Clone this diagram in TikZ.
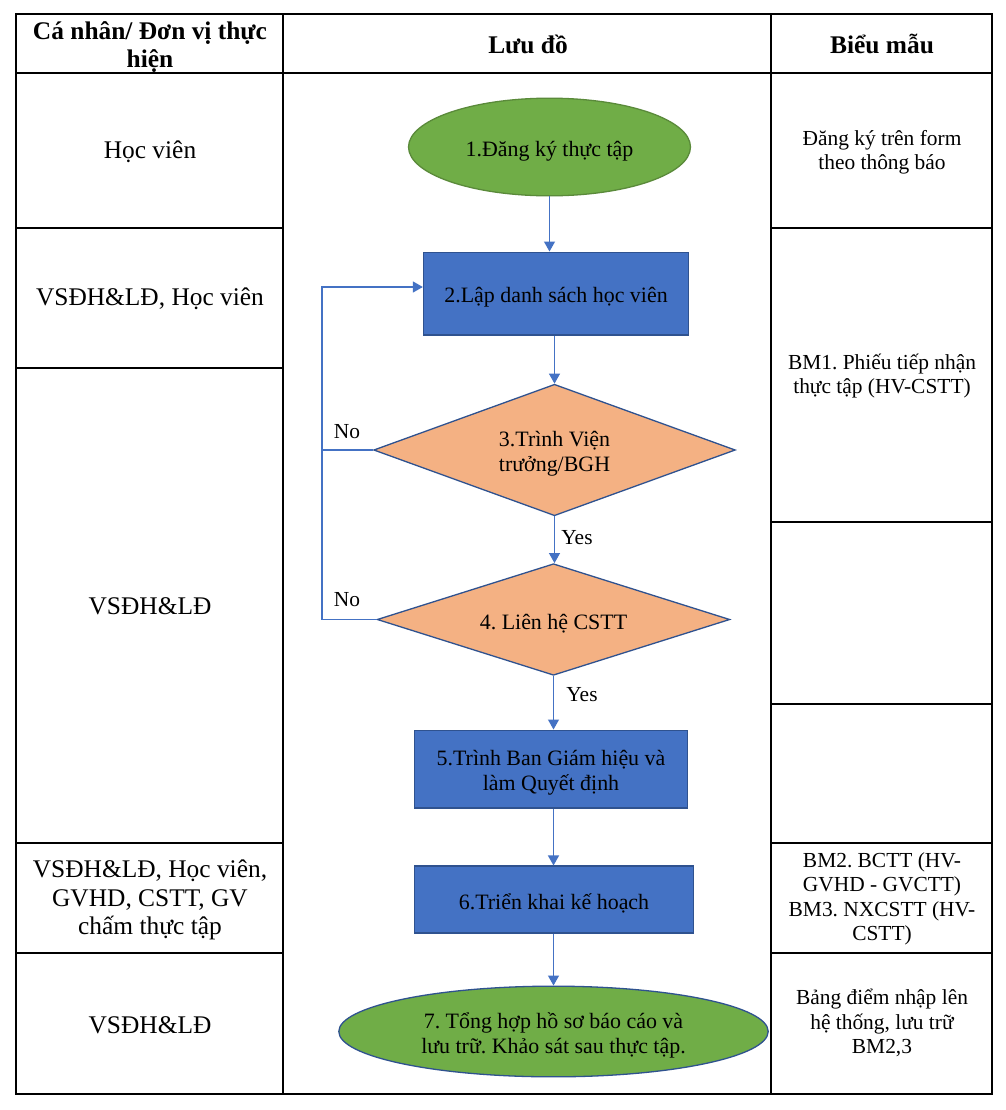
\documentclass[tikz,border=0pt]{standalone}
\usepackage{fontspec}
\setmainfont{Liberation Serif}
\usetikzlibrary{shapes.geometric,arrows.meta,calc}
\definecolor{boxblue}{HTML}{4472C4}
\definecolor{edgeblue}{HTML}{2F528F}
\definecolor{lineblue}{HTML}{4472C4}
\definecolor{greenfill}{HTML}{70AD47}
\definecolor{greenedge}{HTML}{5A8A3A}
\definecolor{orangefill}{HTML}{F4B183}
\begin{document}
\frenchspacing
\begin{tikzpicture}[x=1bp,y=-1bp,
  grid/.style={line width=1.8bp, black},
  cellA/.style={font=\fontsize{25.5}{28.5}\selectfont, align=center, inner sep=0},
  headcell/.style={font=\bfseries\fontsize{25.5}{28}\selectfont, align=center, inner sep=0},
  cellC/.style={font=\fontsize{21.5}{24.5}\selectfont, align=center, inner sep=0},
  flowtext/.style={font=\fontsize{22}{25.5}\selectfont, align=center, inner sep=0},
  procbox/.style={rectangle, draw=edgeblue, fill=boxblue, line width=1.3bp, inner sep=0},
  termgreen/.style={ellipse, fill=greenfill, line width=1.3bp, inner sep=0},
  decide/.style={diamond, draw=edgeblue, fill=orangefill, line width=1.3bp, inner sep=0},
  conn/.style={draw=lineblue, line width=1.2bp, -{Triangle[width=11bp,length=10bp]}},
  plainline/.style={draw=lineblue, line width=1.2bp},
  lab/.style={font=\fontsize{21.5}{24}\selectfont, inner sep=0}
]
\useasboundingbox (0,0) rectangle (1006,1110);
\fill[white] (0,0) rectangle (1006,1110);

% table grid
\draw[grid] (16,14) rectangle (992,1094);
\draw[grid] (283,14) -- (283,1094);
\draw[grid] (771,14) -- (771,1094);
\draw[grid] (16,73) -- (992,73);
\foreach \yy in {228,368,843,953} \draw[grid] (16,\yy) -- (283,\yy);
\foreach \yy in {228,522,704,843,953} \draw[grid] (771,\yy) -- (992,\yy);

% headers
\node[headcell] (h1) at (150,47) {Cá nhân/ Đơn vị thực\\hiện};
\node[headcell] (h2) at (528,44) {Lưu đồ};
\node[headcell] (h3) at (882,44) {Biểu mẫu};

% column 1
\node[cellA] (a1) at (150,152) {Học viên};
\node[cellA] (a2) at (150,299) {VSĐH\&LĐ, Học viên};
\node[cellA] (a3) at (150,606) {VSĐH\&LĐ};
\node[cellA] (a4) at (150,900) {VSĐH\&LĐ, Học viên,\\GVHD, CSTT, GV\\chấm thực tập};
\node[cellA] (a5) at (150,1025) {VSĐH\&LĐ};

% column 3
\node[cellC] (c1) at (882,152) {Đăng ký trên form\\theo thông báo};
\node[cellC] (c2) at (882,376) {BM1. Phiếu tiếp nhận\\thực tập (HV-CSTT)};
\node[cellC] (c4) at (882,899) {BM2. BCTT (HV-\\GVHD - GVCTT)\\BM3. NXCSTT (HV-\\CSTT)};
\node[cellC] (c5) at (882,1023) {Bảng điểm nhập lên\\hệ thống, lưu trữ\\BM2,3};

% flowchart shapes
\node[termgreen, draw=greenedge, minimum width=283, minimum height=98] (e1) at (549.5,147) {};
\node[procbox, minimum width=266, minimum height=83] (b2) at (556,293.5) {};
\node[decide, minimum width=363, minimum height=132] (d3) at (554.5,450) {};
\node[decide, minimum width=354, minimum height=112] (d4) at (553.5,619.5) {};
\node[procbox, minimum width=274, minimum height=78] (b5) at (551,769) {};
\node[procbox, minimum width=280, minimum height=67] (b6) at (554,899.5) {};
\node[termgreen, draw=edgeblue, minimum width=431, minimum height=91] (e7) at (553.5,1031.5) {};

% flowchart texts
\node[flowtext] (e1t) at ($(e1)+(0,4)$) {1.Đăng ký thực tập};
\node[flowtext] (b2t) at ($(b2)+(0,4)$) {2.Lập danh sách học viên};
\node[flowtext] (d3t) at ($(d3)+(0,4)$) {3.Trình Viện\\trưởng/BGH};
\node[flowtext] (d4t) at ($(d4)+(0,4)$) {4. Liên hệ CSTT};
\node[flowtext] (b5t) at ($(b5)+(0,4)$) {5.Trình Ban Giám hiệu và\\làm Quyết định};
\node[flowtext] (b6t) at ($(b6)+(0,4)$) {6.Triển khai kế hoạch};
\node[flowtext] (e7t) at ($(e7)+(0,4)$) {7. Tổng hợp hồ sơ báo cáo và\\lưu trữ. Khảo sát sau thực tập.};

\coordinate (loopx) at (322,450);
\coordinate (b2in) at ($(b2.west)+(0,-6.5)$);

\draw[conn] (e1.south) -- (e1.south |- b2.north);
\draw[conn] (d3.north |- b2.south) -- (d3.north);
\draw[conn] (d3.south) -- (d3.south |- d4.north);
\draw[conn] (d4.south) -- (d4.south |- b5.north);
\draw[conn] (b5.south -| d4.south) -- (b6.north -| d4.south);
\draw[conn] (b6.south -| e7.north) -- (e7.north);

\draw[conn] (d3.west) -- (d3.west -| loopx) |- (b2in);
\draw[plainline] (d4.west) -- (d4.west -| loopx) -- (d3.west -| loopx);

\node[lab] (no1) at (347,432) {No};
\node[lab] (no2) at (347,600) {No};
\node[lab] (yes1) at (577,538) {Yes};
\node[lab] (yes2) at (582,695) {Yes};
\end{tikzpicture}
\end{document}
